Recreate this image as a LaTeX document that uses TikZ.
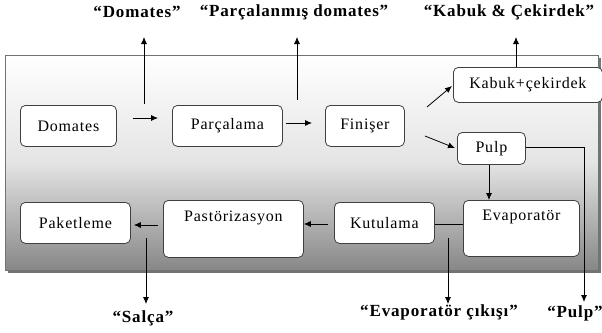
\documentclass[tikz,border=0pt]{standalone}
\usepackage{fontspec}
\setmainfont{Liberation Serif}
\usetikzlibrary{arrows.meta,calc}
\begin{document}
\begin{tikzpicture}[x=1pt,y=-1pt,
  box/.style={draw=black!75,line width=0.8pt,rounded corners=5pt,fill=white,font=\fontsize{16}{18}\selectfont\addfontfeatures{LetterSpace=5},anchor=north west,inner sep=0pt},
  lbl/.style={font=\bfseries\fontsize{17}{19}\selectfont\addfontfeatures{LetterSpace=5},inner sep=0pt},
  arr/.style={line width=0.8pt,-{Latex[length=7pt,width=6pt]}},
  ln/.style={line width=0.8pt}]
\useasboundingbox (0,0) rectangle (602,332);
% panel
\fill[black!55] (8,58) rectangle (601,273);
\shade[top color=white,bottom color={rgb,255:red,135;green,135;blue,135},middle color={rgb,255:red,228;green,228;blue,228}] (5,55) rectangle (598,270);
\draw[black!55,line width=0.8pt] (5,55) rectangle (598,270);
% boxes
\node[box,minimum width=96pt,minimum height=41pt] (dom) at (20,105) {Domates};
\node[box,minimum width=110pt,minimum height=41pt] (parc) at (172,105) {Parçalama};
\node[box,minimum width=79pt,minimum height=41pt] (fin) at (325,105) {Finişer};
\node[box,minimum width=149pt,minimum height=35pt] (kab) at (453,67) {Kabuk+çekirdek};
\node[box,minimum width=68pt,minimum height=32pt] (pulp) at (457,132) {Pulp};
\node[box,minimum width=116pt,minimum height=56pt,text depth=26pt] (evap) at (463,200) {Evaporatör};
\node[box,minimum width=100pt,minimum height=41pt] (kut) at (334,202) {Kutulama};
\node[box,minimum width=140pt,minimum height=57pt,text depth=26pt] (past) at (163,200) {Pastörizasyon};
\node[box,minimum width=110pt,minimum height=41pt] (pak) at (20,202) {Paketleme};
% labels
\node[lbl] (ldom) at (137,12) {“Domates”};
\node[lbl] (lparc) at (294,12) {“Parçalanmış domates”};
\node[lbl] (lkab) at (509,12) {“Kabuk \& Çekirdek”};
\node[lbl] (lsal) at (143,318) {“Salça”};
\node[lbl] (levap) at (439,312) {“Evaporatör çıkışı”};
\node[lbl] (lpulp) at (575,313) {“Pulp”};
% coordinates
\coordinate (c1) at (144,104);
\coordinate (c1t) at (144,37);
\coordinate (c2) at (297,100);
\coordinate (c2t) at (297,37);
\coordinate (c3t) at (516,37);
\coordinate (c4) at (146,238);
\coordinate (c4b) at (146,304);
\coordinate (c5) at (448,238);
\coordinate (c5b) at (448,304);
\coordinate (c6) at (584,147);
\coordinate (c6b) at (584,302);
% connectors
\draw[arr] (c1) -- (c1t);
\draw[arr] (c2) -- (c2t);
\draw[arr] (kab.north -| c3t) -- (c3t);
\draw[arr,shorten <=16pt,shorten >=14pt] (dom.east |- 0,118) -- (parc.west |- 0,118);
\draw[arr,shorten <=3pt,shorten >=13pt] (parc.east |- 0,123) -- (fin.west |- 0,123);
\draw[arr] (427,107) -- (452,86);
\draw[arr] (425,136) -- (455,148);
\draw[arr] (pulp.south -| 489,0) -- (evap.north -| 489,0);
\draw[ln] (pulp.east |- c6) -- (c6);
\draw[arr] (c6) -- (c6b);
\draw[ln] (kut.east |- 0,224) -- (evap.west |- 0,224);
\draw[arr,shorten <=6pt] (kut.west |- 0,224) -- (past.east |- 0,224);
\draw[arr,shorten <=5pt,shorten >=3pt] (past.west |- 0,225) -- (pak.east |- 0,225);
\draw[arr] (c4) -- (c4b);
\draw[arr] (c5) -- (c5b);
\end{tikzpicture}
\end{document}
